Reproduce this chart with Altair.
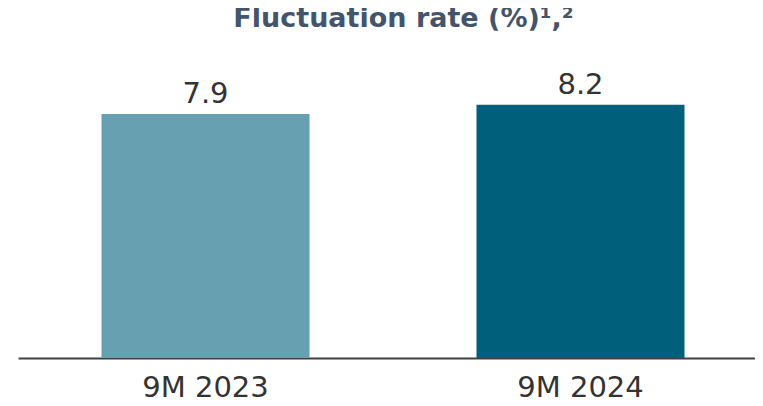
import altair as alt
import pandas as pd

periods = ["9M 2023", "9M 2024"]
rates = [7.9, 8.2]
bar_colors = ["#67a1b1", "#005f7a"]

df = pd.DataFrame({"period": periods, "rate": rates, "color": bar_colors})

FONT = "DejaVu Sans"
TXT = "#333333"

base = alt.Chart(df).encode(
    x=alt.X(
        "period:N",
        sort=periods,
        scale=alt.Scale(range=[0, 750], paddingInner=0.4453, paddingOuter=0.2227),
        axis=alt.Axis(
            title=None,
            labelAngle=0,
            labelFontSize=29,
            labelFont=FONT,
            labelColor=TXT,
            ticks=False,
            domainColor="#404040",
            domainWidth=2,
            labelPadding=15,
            grid=False,
        ),
    ),
    y=alt.Y("rate:Q", scale=alt.Scale(domain=[0, 9]), axis=None),
)

bars = base.mark_bar().encode(color=alt.Color("color:N", scale=None))
labels = base.mark_text(
    baseline="alphabetic", dy=-11, fontSize=29, font=FONT, color=TXT
).encode(text=alt.Text("rate:Q", format=".1f"))

chart = (
    (bars + labels)
    .properties(
        width=737,
        height=278,
        title=alt.TitleParams(
            "Fluctuation rate (%)¹,²",
            fontSize=27,
            font=FONT,
            fontWeight="bold",
            color="#44546a",
            anchor="middle",
            frame="group",
            baseline="alphabetic",
            offset=17,
            dx=17,
        ),
        autosize=alt.AutoSizeParams(type="none"),
        padding={"left": 10, "top": 72, "right": 0, "bottom": 40},
    )
    .configure_view(stroke=None)
)

chart.save("out.html", embed_options={"renderer": "svg", "actions": False})
